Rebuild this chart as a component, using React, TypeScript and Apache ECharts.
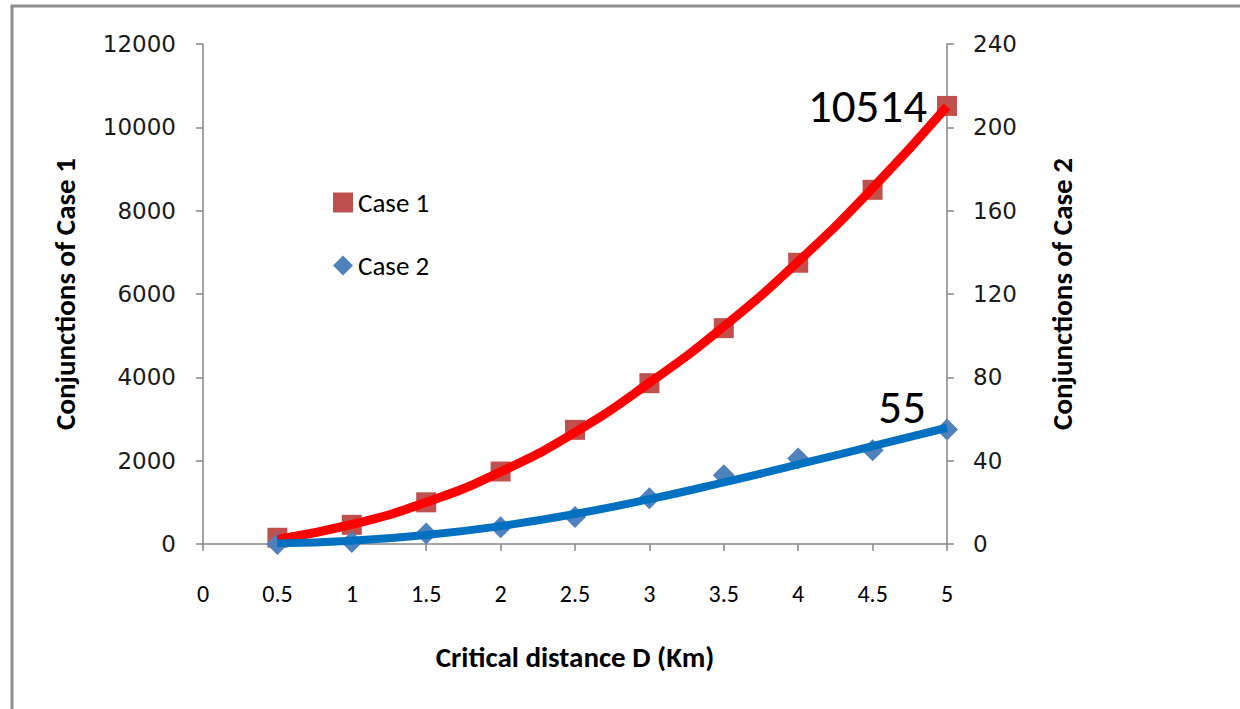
import React, { useEffect, useRef } from "react";
import * as echarts from "echarts";

const distances = [0.5, 1, 1.5, 2, 2.5, 3, 3.5, 4, 4.5, 5];
const case1Values = [150, 460, 1000, 1740, 2740, 3860, 5180, 6750, 8500, 10514];
const case2Values = [0, 1, 5, 8, 13, 22, 33, 41, 45, 55];
const case1Trend = [110, 470, 1000, 1730, 2680, 3870, 5220, 6780, 8540, 10500];
const case2Trend = [0.3, 1.6, 4.3, 8.6, 14.4, 21.5, 29.6, 38.2, 47.0, 55.8];
const xTicks = { min: 0, max: 5, interval: 0.5 };
const leftTicks = { min: 0, max: 12000, interval: 2000 };
const rightTicks = { min: 0, max: 240, interval: 40 };

const narrowFont = "Carlito, 'Liberation Sans Narrow', 'Liberation Sans', sans-serif";
const wideFont = "'DejaVu Sans', Verdana, sans-serif";
const axisColor = "#868686";

export default function App() {
  const ref = useRef<HTMLDivElement>(null);
  useEffect(() => {
    document.body.style.margin = "0";
    const chart = echarts.init(ref.current!, null, { renderer: "svg" });
    const pairs = (ys: number[]) => distances.map((x, i) => [x, ys[i]]);
    const lastLabel = (ys: number[], offset: number[]) =>
      pairs(ys).map((p, i) =>
        i === ys.length - 1
          ? {
              value: p,
              label: {
                show: true,
                position: "left",
                distance: 10,
                offset,
                formatter: String(ys[i]),
                fontSize: 47,
                fontFamily: narrowFont,
                color: "#000",
              },
            }
          : { value: p }
      );
    const titleStyle = { fontSize: 29, fontWeight: "bold", fontFamily: narrowFont, color: "#000" };
    chart.setOption({
      animation: false,
      backgroundColor: "#fff",
      grid: { left: 203, right: 293, top: 44, bottom: 165 },
      graphic: [
        {
          type: "rect",
          shape: { x: 12, y: 6, width: 1260, height: 740 },
          style: { fill: "none", stroke: "#8c8c8c", lineWidth: 3 },
          silent: true,
        },
      ],
      legend: {
        orient: "vertical",
        left: 328,
        top: 184,
        itemGap: 36,
        itemWidth: 20,
        itemHeight: 20,
        data: [
          { name: "Case 1", icon: "rect" },
          { name: "Case 2", icon: "diamond" },
        ],
        textStyle: { fontSize: 27, fontFamily: narrowFont, color: "#000" },
      },
      xAxis: {
        type: "value",
        ...xTicks,
        name: "Critical distance D (Km)",
        nameLocation: "middle",
        nameGap: 98,
        nameTextStyle: titleStyle,
        axisLine: { lineStyle: { color: axisColor, width: 1.5 } },
        axisTick: { show: true, length: 7, lineStyle: { color: axisColor, width: 1.5 } },
        splitLine: { show: false },
        axisLabel: { margin: 37, fontSize: 24, fontFamily: narrowFont, color: "#000" },
      },
      yAxis: [
        {
          type: "value",
          ...leftTicks,
          position: "left",
          name: "Conjunctions of Case 1",
          nameLocation: "middle",
          nameGap: 124,
          nameTextStyle: titleStyle,
          axisLine: { show: true, lineStyle: { color: axisColor, width: 1.5 } },
          axisTick: { show: true, length: 7, lineStyle: { color: axisColor, width: 1.5 } },
          splitLine: { show: false },
          axisLabel: { margin: 27, fontSize: 23, fontFamily: wideFont, color: "#1a1a1a", formatter: (v: number) => String(v) },
        },
        {
          type: "value",
          ...rightTicks,
          position: "right",
          name: "Conjunctions of Case 2",
          nameLocation: "middle",
          nameGap: 100,
          nameRotate: 90,
          nameTextStyle: titleStyle,
          axisLine: { show: true, lineStyle: { color: axisColor, width: 1.5 } },
          axisTick: { show: true, length: 7, lineStyle: { color: axisColor, width: 1.5 } },
          splitLine: { show: false },
          axisLabel: { margin: 26, fontSize: 23, fontFamily: wideFont, color: "#1a1a1a", formatter: (v: number) => String(v) },
        },
      ],
      series: [
        {
          name: "Case 1",
          type: "scatter",
          yAxisIndex: 0,
          symbol: "rect",
          symbolSize: 20,
          itemStyle: { color: "#c0504d", opacity: 1 },
          data: lastLabel(case1Values, [0, 0]),
          z: 2,
        },
        {
          name: "Case 2",
          type: "scatter",
          yAxisIndex: 1,
          symbol: "diamond",
          symbolSize: 22,
          itemStyle: { color: "#4f81bd", opacity: 1 },
          data: lastLabel(case2Values, [0, -22]),
          z: 2,
        },
        {
          name: "Trend 1",
          type: "line",
          yAxisIndex: 0,
          smooth: true,
          symbol: "none",
          lineStyle: { color: "#ff0000", width: 9 },
          data: pairs(case1Trend),
          z: 3,
        },
        {
          name: "Trend 2",
          type: "line",
          yAxisIndex: 1,
          smooth: true,
          symbol: "none",
          lineStyle: { color: "#0070c0", width: 8 },
          data: pairs(case2Trend),
          z: 3,
        },
      ],
    });
    return () => chart.dispose();
  }, []);
  return <div ref={ref} style={{ width: 1240, height: 709 }} />;
}
